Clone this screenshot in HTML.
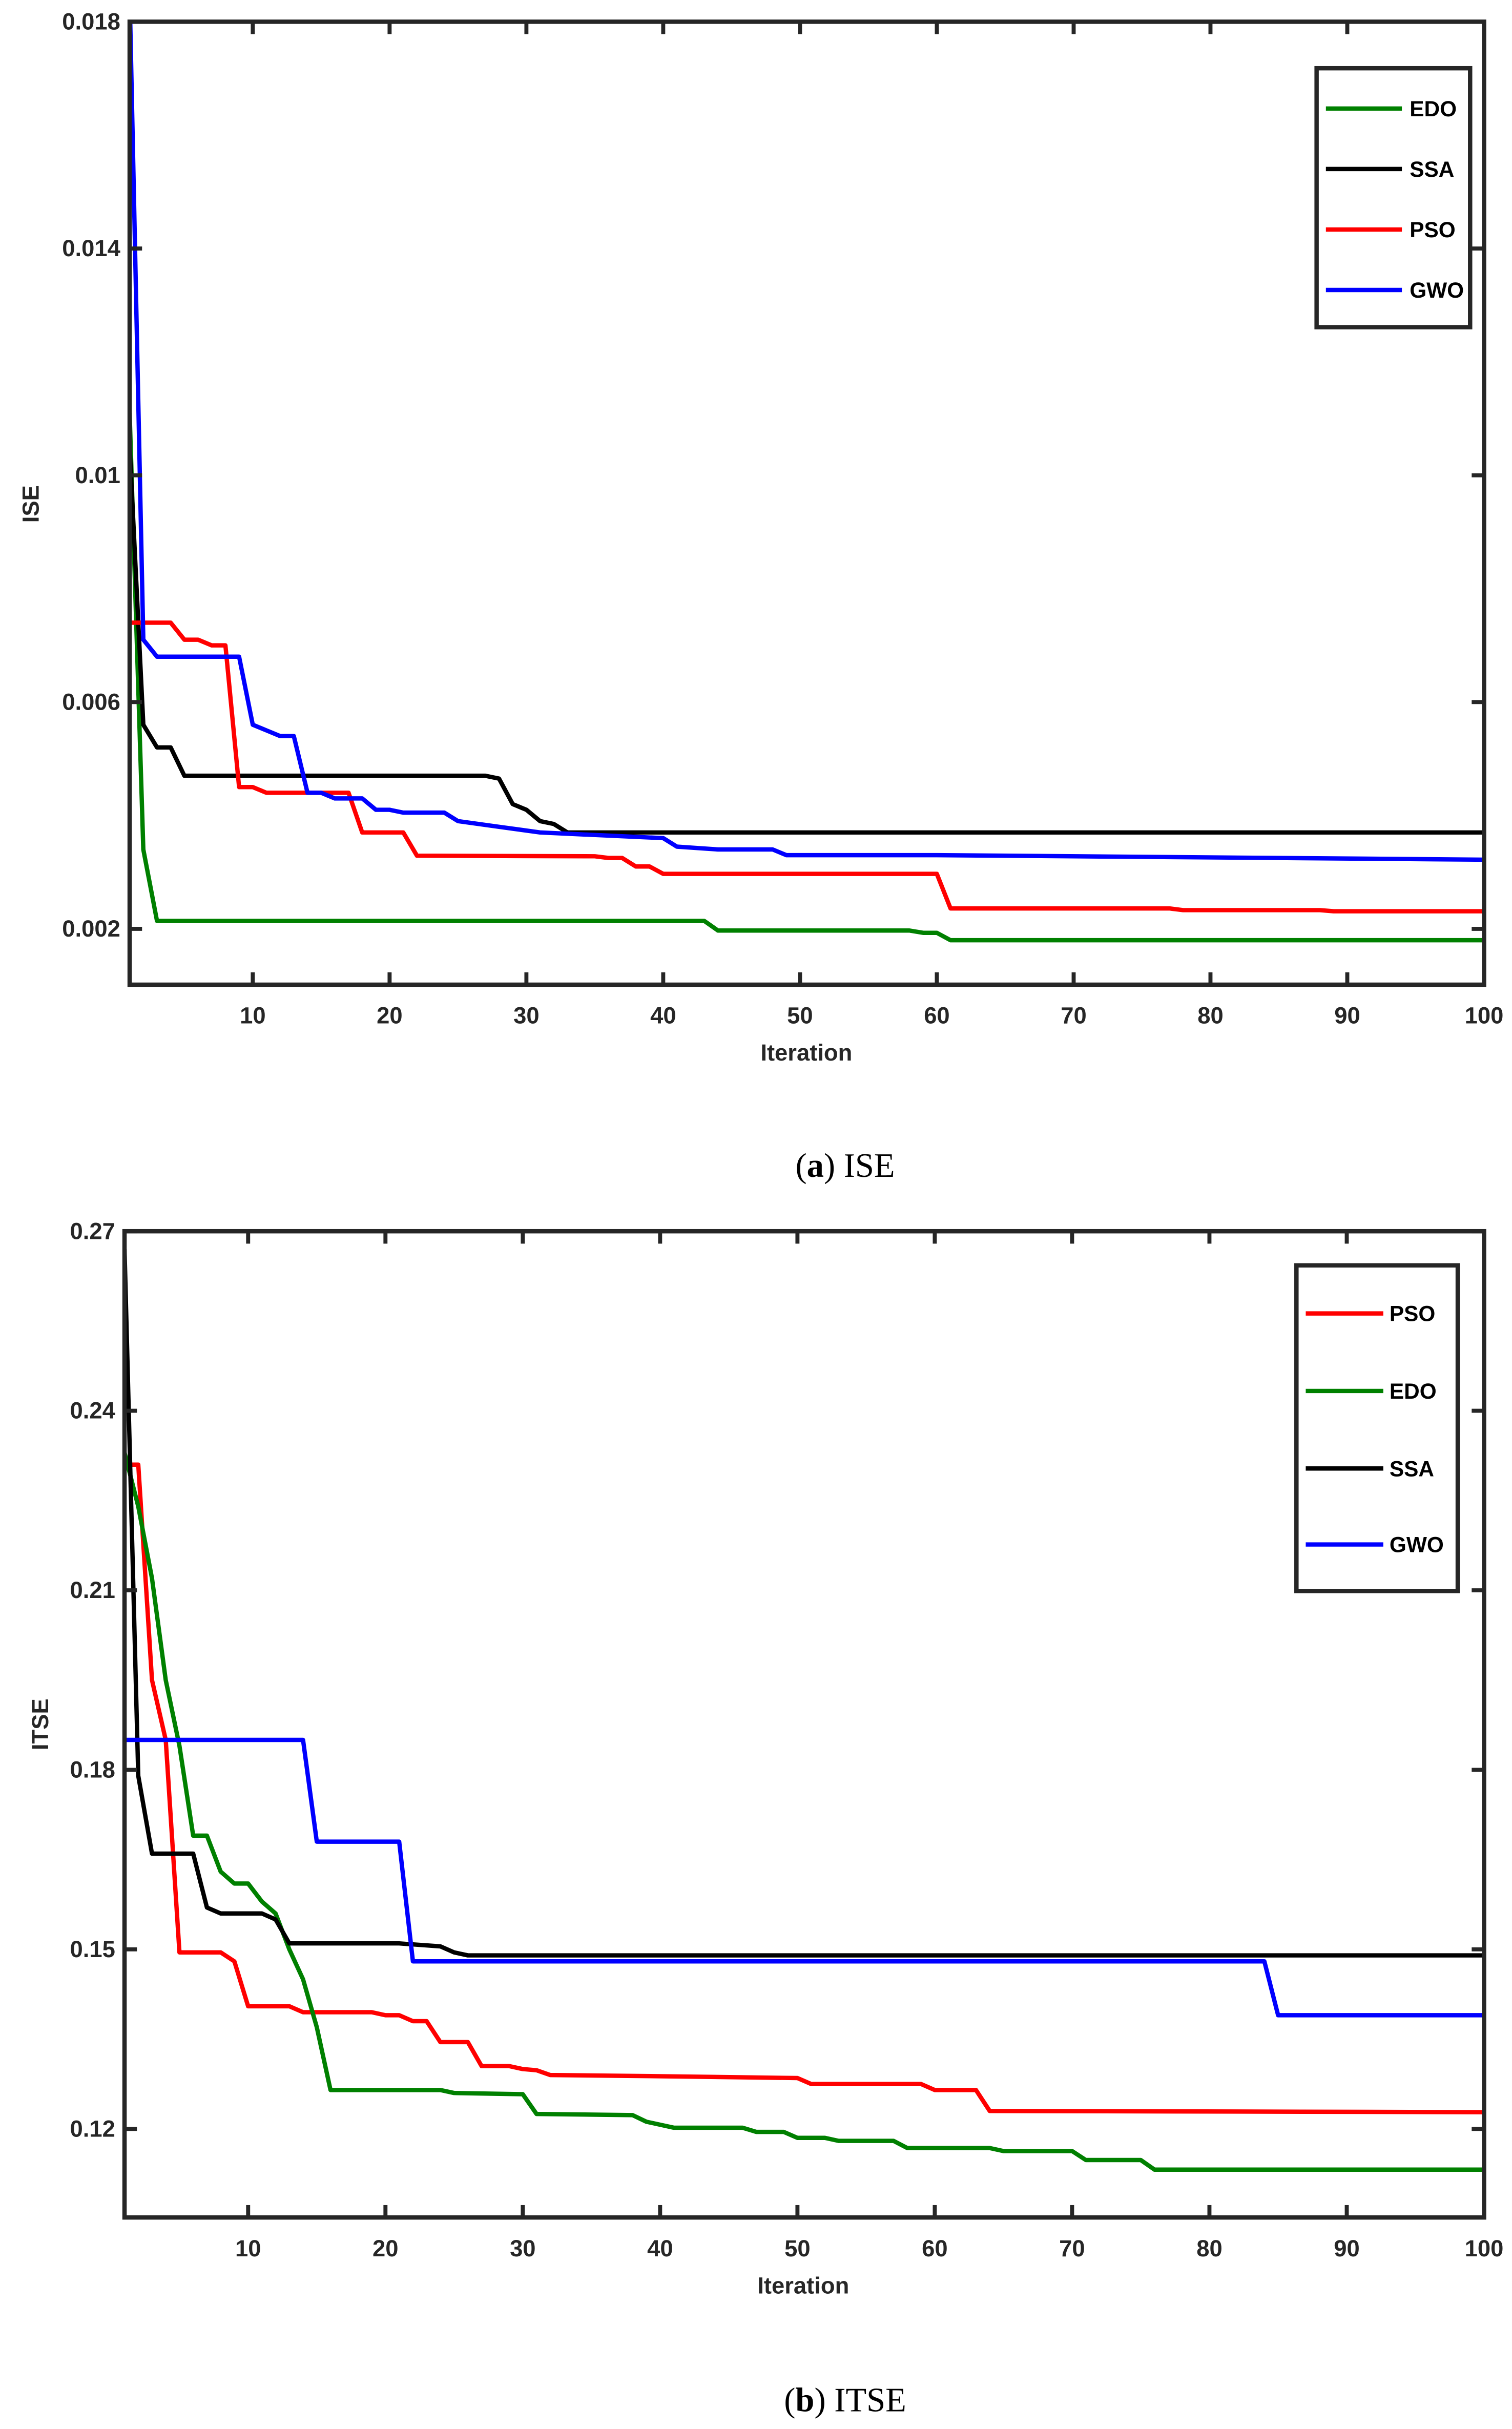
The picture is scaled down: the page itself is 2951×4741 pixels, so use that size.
<!DOCTYPE html>
<html><head><meta charset="utf-8"><style>
html,body{margin:0;padding:0;background:#fff;}
svg{display:block;}
.tk{font-family:"Liberation Sans",sans-serif;font-weight:bold;font-size:15px;fill:#262626;}
.lg{font-family:"Liberation Sans",sans-serif;font-weight:bold;font-size:14px;fill:#000;}
.cap{font-family:"Liberation Serif",serif;font-size:22px;fill:#000;}
</style></head><body>
<svg id="fig" width="2951" height="4741" viewBox="0 0 975 1566.4" xmlns="http://www.w3.org/2000/svg">
<text class="cap" x="545" y="759" text-anchor="middle">(<tspan font-weight="bold">a</tspan>) ISE</text>
<text class="cap" x="545" y="1555" text-anchor="middle">(<tspan font-weight="bold">b</tspan>) ITSE</text>
</svg>
<script>
// ---- ISE chart data ----
const iseTicksY = [0.002, 0.006, 0.01, 0.014, 0.018];
const iseTickLabelsY = ["0.002", "0.006", "0.01", "0.014", "0.018"];
const iterTicks = [10, 20, 30, 40, 50, 60, 70, 80, 90, 100];
const iseEdoX = [1, 2, 3, 43, 44, 58, 59, 60, 61, 100];
const iseEdoY = [0.0111, 0.0034, 0.00214, 0.00214, 0.00197, 0.00197, 0.00193, 0.00193, 0.0018, 0.0018];
const iseSsaX = [1, 2, 3, 4, 5, 27, 28, 29, 30, 31, 32, 33, 100];
const iseSsaY = [0.0105, 0.0056, 0.0052, 0.0052, 0.0047, 0.0047, 0.00465, 0.0042, 0.0041, 0.0039, 0.00385, 0.0037, 0.0037];
const isePsoX = [1, 4, 5, 6, 7, 8, 9, 10, 11, 17, 18, 21, 22, 35, 36, 37, 38, 39, 40, 60, 61, 77, 78, 88, 89, 100];
const isePsoY = [0.0074, 0.0074, 0.0071, 0.0071, 0.007, 0.007, 0.0045, 0.0045, 0.0044, 0.0044, 0.0037, 0.0037, 0.00329, 0.00328, 0.00325, 0.00325, 0.0031, 0.0031, 0.00297, 0.00297, 0.00236, 0.00236, 0.00233, 0.00233, 0.00231, 0.00231];
const iseGwoX = [1, 2, 3, 9, 10, 11, 12, 13, 14, 15, 16, 18, 19, 20, 21, 24, 25, 28, 31, 40, 41, 44, 48, 49, 60, 100];
const iseGwoY = [0.0185, 0.0071, 0.0068, 0.0068, 0.0056, 0.0055, 0.0054, 0.0054, 0.0044, 0.0044, 0.0043, 0.0043, 0.0041, 0.0041, 0.00405, 0.00405, 0.0039, 0.0038, 0.0037, 0.0036, 0.00345, 0.0034, 0.0034, 0.0033, 0.0033, 0.00322];
// ---- ITSE chart data ----
const itseTicksY = [0.12, 0.15, 0.18, 0.21, 0.24, 0.27];
const itseTickLabelsY = ["0.12", "0.15", "0.18", "0.21", "0.24", "0.27"];
const itsePsoX = [1, 2, 3, 4, 5, 8, 9, 10, 13, 14, 19, 20, 21, 22, 23, 24, 26, 27, 29, 30, 31, 32, 40, 50, 51, 59, 60, 63, 64, 100];
const itsePsoY = [0.231, 0.231, 0.195, 0.185, 0.1495, 0.1495, 0.148, 0.1405, 0.1405, 0.1395, 0.1395, 0.139, 0.139, 0.138, 0.138, 0.1345, 0.1345, 0.1305, 0.1305, 0.130, 0.1298, 0.129, 0.1288, 0.1285, 0.1275, 0.1275, 0.1265, 0.1265, 0.123, 0.1228];
const itseEdoX = [1, 2, 3, 4, 5, 6, 7, 8, 9, 10, 11, 12, 13, 14, 15, 16, 24, 25, 30, 31, 38, 39, 41, 46, 47, 49, 50, 52, 53, 57, 58, 64, 65, 70, 71, 75, 76, 100];
const itseEdoY = [0.233, 0.224, 0.212, 0.195, 0.184, 0.169, 0.169, 0.163, 0.161, 0.161, 0.158, 0.156, 0.150, 0.145, 0.137, 0.1265, 0.1265, 0.126, 0.1258, 0.1225, 0.1223, 0.1212, 0.1202, 0.1202, 0.1195, 0.1195, 0.1185, 0.1185, 0.118, 0.118, 0.1168, 0.1168, 0.1163, 0.1163, 0.1148, 0.1148, 0.1132, 0.1132];
const itseSsaX = [1, 2, 3, 6, 7, 8, 11, 12, 13, 21, 24, 25, 26, 100];
const itseSsaY = [0.267, 0.179, 0.166, 0.166, 0.157, 0.156, 0.156, 0.155, 0.151, 0.151, 0.1505, 0.1495, 0.149, 0.149];
const itseGwoX = [1, 14, 15, 21, 22, 84, 85, 100];
const itseGwoY = [0.185, 0.185, 0.168, 0.168, 0.148, 0.148, 0.139, 0.139];

const NS = "http://www.w3.org/2000/svg";
const svg = document.getElementById("fig");
function mk(tag, attrs, parent) {
  const e = document.createElementNS(NS, tag);
  for (const k in attrs) e.setAttribute(k, attrs[k]);
  (parent || svg).appendChild(e);
  return e;
}

function chart(cfg) {
  const g = mk("g", {});
  
  
  const xs = v => cfg.x0 + (v - 1) / 99 * (cfg.x1 - cfg.x0);
  const ys = v => cfg.y1 - (v - cfg.vmin) / (cfg.vmax - cfg.vmin) * (cfg.y1 - cfg.y0);
  const clip = mk("clipPath", { id: cfg.name + "-clip" }, g);
  mk("rect", { x: cfg.x0, y: cfg.y0, width: cfg.x1 - cfg.x0, height: cfg.y1 - cfg.y0 }, clip);
  cfg.series.forEach(s => {
    const pts = s.x.map((v, i) => xs(v).toFixed(2) + "," + ys(s.y[i]).toFixed(2)).join(" ");
    const pl = mk("polyline", { points: pts, fill: "none", stroke: s.color, "stroke-width": 2.8, "stroke-linejoin": "round", "clip-path": "url(#" + cfg.name + "-clip)" }, g);
    
    
  });
  const box = mk("rect", { x: cfg.x0, y: cfg.y0, width: cfg.x1 - cfg.x0, height: cfg.y1 - cfg.y0, fill: "none", stroke: "#262626", "stroke-width": 2.8 }, g);
  
  
  const tl = 8;
  iterTicks.forEach(t => {
    const x = xs(t);
    mk("line", { x1: x, x2: x, y1: cfg.y1, y2: cfg.y1 - tl, stroke: "#262626", "stroke-width": 2.6 }, g);
    mk("line", { x1: x, x2: x, y1: cfg.y0, y2: cfg.y0 + tl, stroke: "#262626", "stroke-width": 2.6 }, g);
    const lab = mk("text", { x: x, y: cfg.y1 + 25, "text-anchor": "middle", class: "tk" }, g);
    lab.textContent = String(t);
    
    
  });
  cfg.ticks.forEach((t, i) => {
    const y = ys(t);
    mk("line", { x1: cfg.x0, x2: cfg.x0 + tl, y1: y, y2: y, stroke: "#262626", "stroke-width": 2.6 }, g);
    mk("line", { x1: cfg.x1, x2: cfg.x1 - tl, y1: y, y2: y, stroke: "#262626", "stroke-width": 2.6 }, g);
    const lab = mk("text", { x: cfg.x0 - 6, y: y + 5, "text-anchor": "end", class: "tk" }, g);
    lab.textContent = cfg.tickLabels[i];
    
    
  });
  const xt = mk("text", { x: cfg.xlabX, y: cfg.y1 + 49, "text-anchor": "middle", class: "tk", "font-size": 17 }, g);
  xt.textContent = "Iteration";
  
  
  const yt = mk("text", { x: 0, y: 0, "text-anchor": "middle", class: "tk", "font-size": 18, transform: "translate(" + cfg.ylabPos[0] + "," + cfg.ylabPos[1] + ") rotate(-90)" }, g);
  yt.textContent = cfg.ylabel;
  
  
  const L = cfg.legend;
  const lgBox = mk("rect", { x: L.x0, y: L.y0, width: L.x1 - L.x0, height: L.y1 - L.y0, fill: "#fff", stroke: "#262626", "stroke-width": 2.8 }, g);
  
  
  L.order.forEach((idx, i) => {
    const s = cfg.series[idx];
    const y = L.ys[i];
    const ln = mk("line", { x1: L.lx0, x2: L.lx1, y1: y, y2: y, stroke: s.color, "stroke-width": 2.8 }, g);
    
    
    const t = mk("text", { x: L.tx, y: y + 5, class: "lg" }, g);
    t.textContent = s.label;
    
    
  });
}

chart({
  name: "ise-chart", x0: 83.6, x1: 957, y0: 14, y1: 635, vmin: 0.001015, vmax: 0.018,
  ticks: iseTicksY, tickLabels: iseTickLabelsY, ylabel: "ISE", ylabPos: [25, 325], xlabX: 520,
  series: [
    { label: "EDO", color: "#008000", x: iseEdoX, y: iseEdoY },
    { label: "SSA", color: "#000000", x: iseSsaX, y: iseSsaY },
    { label: "PSO", color: "#ff0000", x: isePsoX, y: isePsoY },
    { label: "GWO", color: "#0000ff", x: iseGwoX, y: iseGwoY }
  ],
  legend: { x0: 849, x1: 948, y0: 44, y1: 211, lx0: 855, lx1: 904, tx: 909, ys: [70, 109, 148, 187], order: [0, 1, 2, 3] }
});
chart({
  name: "itse-chart", x0: 80.3, x1: 957, y0: 794, y1: 1430, vmin: 0.1052, vmax: 0.27,
  ticks: itseTicksY, tickLabels: itseTickLabelsY, ylabel: "ITSE", ylabPos: [31, 1112], xlabX: 518,
  series: [
    { label: "PSO", color: "#ff0000", x: itsePsoX, y: itsePsoY },
    { label: "EDO", color: "#008000", x: itseEdoX, y: itseEdoY },
    { label: "SSA", color: "#000000", x: itseSsaX, y: itseSsaY },
    { label: "GWO", color: "#0000ff", x: itseGwoX, y: itseGwoY }
  ],
  legend: { x0: 836, x1: 940, y0: 816, y1: 1026, lx0: 842, lx1: 892, tx: 896, ys: [847, 897, 947, 996], order: [0, 1, 2, 3] }
});
</script>
</body></html>
